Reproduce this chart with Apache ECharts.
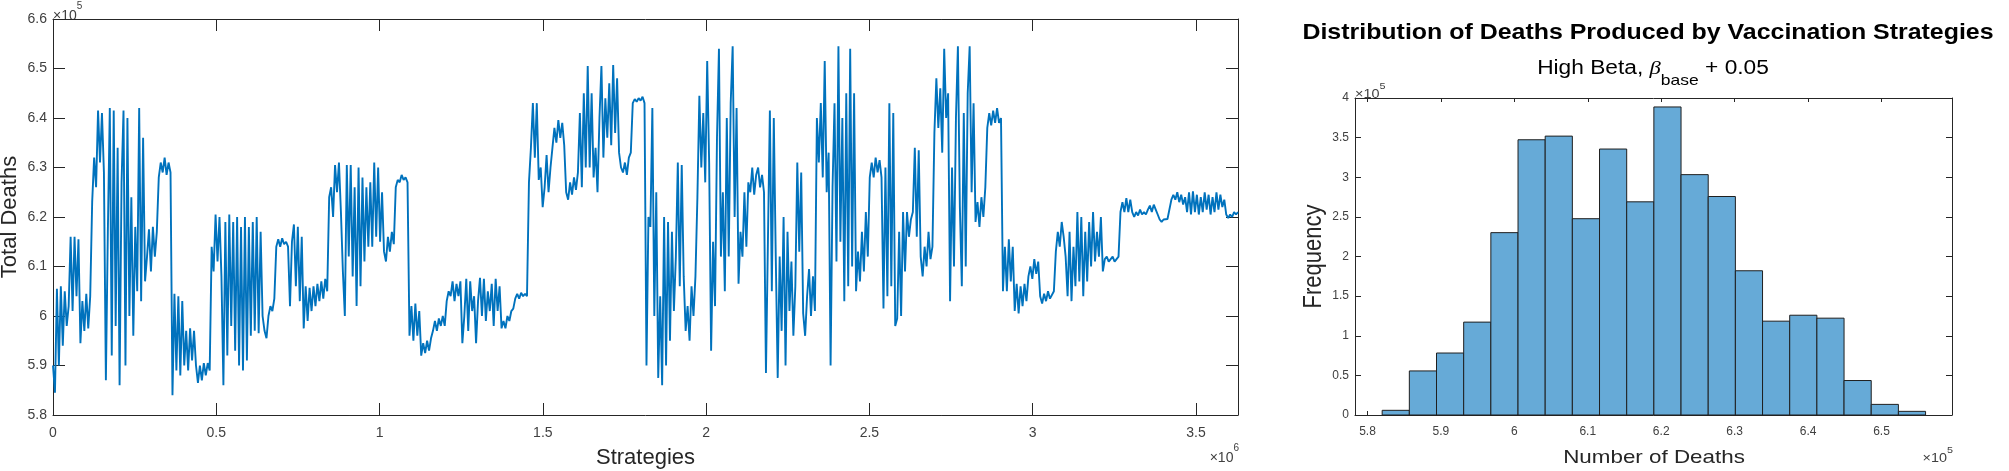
<!DOCTYPE html>
<html>
<head>
<meta charset="utf-8">
<script src="https://cdn.jsdelivr.net/npm/echarts@6/dist/echarts.min.js"></script>
<style>
html,body{margin:0;padding:0;background:#fff;}
#c{width:2009px;height:471px;}
</style>
</head>
<body>
<div id="c"></div>
<script>
// ---------------- DATA ----------------
const totalStrategies = 3628800;
// Total deaths (thousands) at evenly spaced strategy positions
const deathsK = [
590,584.5,605.5,590,606,594,605,598,602,616,601,616,604,615.5,594.5,603,597,604.5,597.5,604,
623,632,626,641.5,631,641,629,587,617,642,592,641.5,598,634,586,627,641.5,590,640,600,
624,596,618,605,642,603,636,607,612,617.5,609,618,612,617,628,631,629,632,628.5,631,
629,584,604.5,589,604,588,603,590,597,589,597.5,591,597,590,586.5,590,587,590.5,588,590.5,
589,614,609,620.5,611,620,608,586,619,592,620.5,598,619,593,620,590,618,589,620,591,
618,596,619,597,620,596.5,617,600,597,595.5,600,602,601,603.5,614,615.5,614,615.7,614.5,615,
614,602,615,618.5,606,618,603,616,597.5,606,599,605.7,601,606,602,606.5,603,607,603.5,607.5,
605,624,626,620,630.5,625,631,621,609,600,630.5,612,630.5,608,626,602,630,606,628,611,
626,614,627,614,631,616,630,615,625,613,611,616,613,617,614.5,626,627.5,627,628.5,627.5,
628,627,596,602,595,602.5,596,601,592,594.5,592.5,595,593,595.5,597,599,597,599.5,598,600,
598,603,605,604,607,603,606.5,604,607,594.5,600,607.5,597,607,601,604,594.5,603,607.7,600,
607.5,599,605,601,606.5,598,607.5,601,606,597.5,599,597.5,600,599,601,601.5,603.5,604.5,603.5,604.7,
604,604.5,604,627,634,643,632,643,627.5,630,622,626,632.5,625,630,634,638,635,639.6,636,
639,634.5,625,623.5,627,624.5,628,625.5,629,641,626,645,630,650.5,630,645,628,634,625,640,
650.5,632,644,636,647,634.5,650.7,637,648,633,630,629,631,628.5,632,633,643,643.8,643.3,644,
643.5,644.3,643,590,620,618,642,600,625,587.5,604,586,620,590,619,595,617,601,612,631,
606,630.5,608,597,602,595,606,600,608,624,644.5,630,641,627,651.5,631,593,615,602,636,
654,612,625,605,640,612,643,654.5,620,642,606.5,617,612,625,614,627,625,630,624.5,628.5,
630,626,628.5,625,588.5,615,641.5,605,640,612,587.5,612,597,620,590,617,601,611,596,606,
631,613,629,600.5,596,604,609.5,600,608,601,640,631,643,628,651.5,625,633,590,626,643,
611,654.5,615,640,603,645,606,654,610,645,605,613,607,617,609,621,612,628,631,628,
632,629,631.5,628,601.5,630,604,643,606,641,598,599.5,617,600,621,609,621,616,619.5,621,
634,616,633.5,612,608,614,610,617,611.5,614,637,648,638,646,633,654,640,645,603,630,
610,640,654.5,622,606,641,610,645,654.5,625,643,619,623,618,624,620,626,638,641,638.5,
641.5,639,642,639,640,605,614,605,615.5,607,614,601,606.5,600.5,606,602,606.5,603,608,610,
607.5,611.5,608.5,611,604,602.5,604.5,603,605,603.5,603.5,605,613,617,614,619,616,612,604,617,
603,614,606,621,607,620,604,617,607,619,610,621,611,617,612,620,609,611.5,612,611,
611.5,612,611,611.5,612,621,623,621,623.8,621,623.5,621,620,621,620.3,621.5,620.5,621,620.5,621.5,
622.3,621,622.5,621.5,620.5,619.5,619,619.5,619.2,619.6,619.3,623.5,624.5,623.5,625,623,624.5,622.5,624,621,
625,620.5,625.2,621,624.5,620.5,624,621,625,621.5,624.5,620.5,624,621,625,621.5,624.5,622,623.5,620.5,
619.8,620.5,620,621,620.5,621
];
const lineXTicks = [0, 500000, 1000000, 1500000, 2000000, 2500000, 3000000, 3500000];

// Histogram
const histEdges = [582000,585700,589400,593100,596800,600500,604200,607900,611600,615300,619000,
                   622700,626400,630100,633800,637500,641200,644900,648600,652300,656000];
const histCounts = [5900,55600,78200,117200,230100,347300,351900,247700,335600,269000,
                    388700,303300,275700,182000,118400,125900,122200,43500,13400,4600];
const histXTicks = [580000,590000,600000,610000,620000,630000,640000,650000];

// ---------------- BUILD ----------------
const step = totalStrategies / (deathsK.length - 1);
const lineData = deathsK.map((v, i) => [i * step, v * 1000]);
const histData = histCounts.map((c, k) => [histEdges[k], histEdges[k + 1], c]);

const AX = '#262626';
const LBL = '#404040';
const FONT = '"Liberation Sans", Arial, sans-serif';
const fmt = d => v => String(parseFloat((v / d).toFixed(3)));

function boxAxis(extra) {
  return Object.assign({
    type: 'value',
    axisLine: { show: true, onZero: false, lineStyle: { color: AX, width: 1 } },
    splitLine: { show: false },
    axisLabel: { show: false }
  }, extra);
}
function sup(base, exp, size, align) {
  return {
    text: '{n|' + base + '}{s|' + exp + '}', align: align, verticalAlign: 'top',
    rich: { n: { fontSize: size, fontFamily: FONT, fill: LBL, lineHeight: Math.round(size * 1.55), verticalAlign: 'bottom' },
            s: { fontSize: Math.round(size * 0.72), fontFamily: FONT, fill: LBL, lineHeight: Math.round(size * 0.72), verticalAlign: 'top' } }
  };
}

const chart = echarts.init(document.getElementById('c'), null, { renderer: 'canvas' });
const option = {
  animation: false,
  backgroundColor: '#fff',
  grid: [
    { left: 53, top: 19, width: 1185, height: 396 },
    { left: 1355, top: 98, width: 597, height: 317 }
  ],
  xAxis: [
    boxAxis({ gridIndex: 0, position: 'bottom', min: 0, max: totalStrategies,
      axisTick: { show: true, inside: true, length: 12, customValues: lineXTicks, lineStyle: { color: AX } },
      axisLabel: { show: true, customValues: lineXTicks, formatter: fmt(1e6), margin: 11, fontSize: 14, color: LBL, fontFamily: FONT } }),
    boxAxis({ gridIndex: 0, position: 'top', min: 0, max: totalStrategies,
      axisTick: { show: true, inside: true, length: 12, customValues: lineXTicks, lineStyle: { color: AX } } }),
    boxAxis({ gridIndex: 1, position: 'bottom', min: 578300, max: 659600,
      axisTick: { show: true, inside: true, length: 4, customValues: histXTicks, lineStyle: { color: AX } },
      axisLabel: { show: true, customValues: histXTicks, formatter: fmt(1e5), margin: 11, fontSize: 12, color: LBL, fontFamily: FONT } }),
    boxAxis({ gridIndex: 1, position: 'top', min: 578300, max: 659600,
      axisTick: { show: true, inside: true, length: 4, customValues: histXTicks, lineStyle: { color: AX } } })
  ],
  yAxis: [
    boxAxis({ gridIndex: 0, position: 'left', min: 580000, max: 660000, interval: 10000,
      axisTick: { show: true, inside: true, length: 12, lineStyle: { color: AX } },
      axisLabel: { show: true, formatter: fmt(1e5), margin: 6, fontSize: 14, color: LBL, fontFamily: FONT } }),
    boxAxis({ gridIndex: 0, position: 'right', min: 580000, max: 660000, interval: 10000,
      axisTick: { show: true, inside: true, length: 12, lineStyle: { color: AX } } }),
    boxAxis({ gridIndex: 1, position: 'left', min: 0, max: 400000, interval: 50000,
      axisTick: { show: true, inside: true, length: 6, lineStyle: { color: AX } },
      axisLabel: { show: true, formatter: fmt(1e5), margin: 6, fontSize: 12, color: LBL, fontFamily: FONT } }),
    boxAxis({ gridIndex: 1, position: 'right', min: 0, max: 400000, interval: 50000,
      axisTick: { show: true, inside: true, length: 6, lineStyle: { color: AX } } })
  ],
  series: [
    {
      type: 'line', xAxisIndex: 0, yAxisIndex: 0, data: lineData,
      showSymbol: false, symbol: 'none', clip: true,
      lineStyle: { color: '#0072BD', width: 1.9 }
    },
    {
      type: 'custom', xAxisIndex: 2, yAxisIndex: 2, data: histData,
      encode: { x: [0, 1], y: 2 },
      renderItem: function (params, api) {
        const p0 = api.coord([api.value(0), api.value(2)]);
        const p1 = api.coord([api.value(1), 0]);
        return {
          type: 'rect',
          shape: { x: p0[0], y: p0[1], width: p1[0] - p0[0], height: p1[1] - p0[1] },
          style: { fill: '#66AAD7', stroke: '#1f1f1f', lineWidth: 1 }
        };
      }
    }
  ],
  graphic: [
    // left panel texts
    { type: 'text', x: 10, y: 217, rotation: Math.PI / 2, style: {
        text: 'Total Deaths', align: 'center', verticalAlign: 'middle',
        fontSize: 22, fontFamily: FONT, fill: AX } },
    { type: 'text', x: 645.5, y: 458, style: {
        text: 'Strategies', align: 'center', verticalAlign: 'middle',
        fontSize: 22, fontFamily: FONT, fill: AX } },
    { type: 'text', x: 53, y: 1, style: sup('×10', '5', 14, 'left') },
    { type: 'text', x: 1239, y: 443, style: sup('×10', '6', 14, 'right') },
    // right panel texts
    { type: 'text', x: 1355, y: 82, scaleX: 1.2, style: sup('×10', '5', 12, 'left') },
    { type: 'text', x: 1953, y: 446, scaleX: 1.2, style: sup('×10', '5', 12, 'right') },
    { type: 'text', x: 1648, y: 33, scaleX: 1.133, style: {
        text: 'Distribution of Deaths Produced by Vaccination Strategies',
        align: 'center', verticalAlign: 'middle',
        fontSize: 22, fontWeight: 'bold', fontFamily: FONT, fill: '#000' } },
    { type: 'text', x: 1653, y: 59, scaleX: 1.165, style: {
        text: '{a|High Beta, }{b|β}{c|base}{a| + 0.05}',
        align: 'center', verticalAlign: 'top',
        rich: {
          a: { fontSize: 19.5, fontFamily: FONT, fill: '#000', lineHeight: 22, verticalAlign: 'top' },
          b: { fontSize: 19.5, fontFamily: '"Liberation Serif", serif', fontStyle: 'italic', fill: '#000', lineHeight: 22, verticalAlign: 'top' },
          c: { fontSize: 15, fontFamily: FONT, fill: '#000', lineHeight: 44, verticalAlign: 'middle' }
        } } },
    { type: 'text', x: 1654, y: 457.5, scaleX: 1.21, style: {
        text: 'Number of Deaths', align: 'center', verticalAlign: 'middle',
        fontSize: 18.5, fontFamily: FONT, fill: AX } },
    { type: 'text', x: 1313.5, y: 256.5, rotation: Math.PI / 2, scaleY: 1.2, style: {
        text: 'Frequency', align: 'center', verticalAlign: 'middle',
        fontSize: 22, fontFamily: FONT, fill: AX } }
  ]
};
chart.setOption(option);
</script>
</body>
</html>
